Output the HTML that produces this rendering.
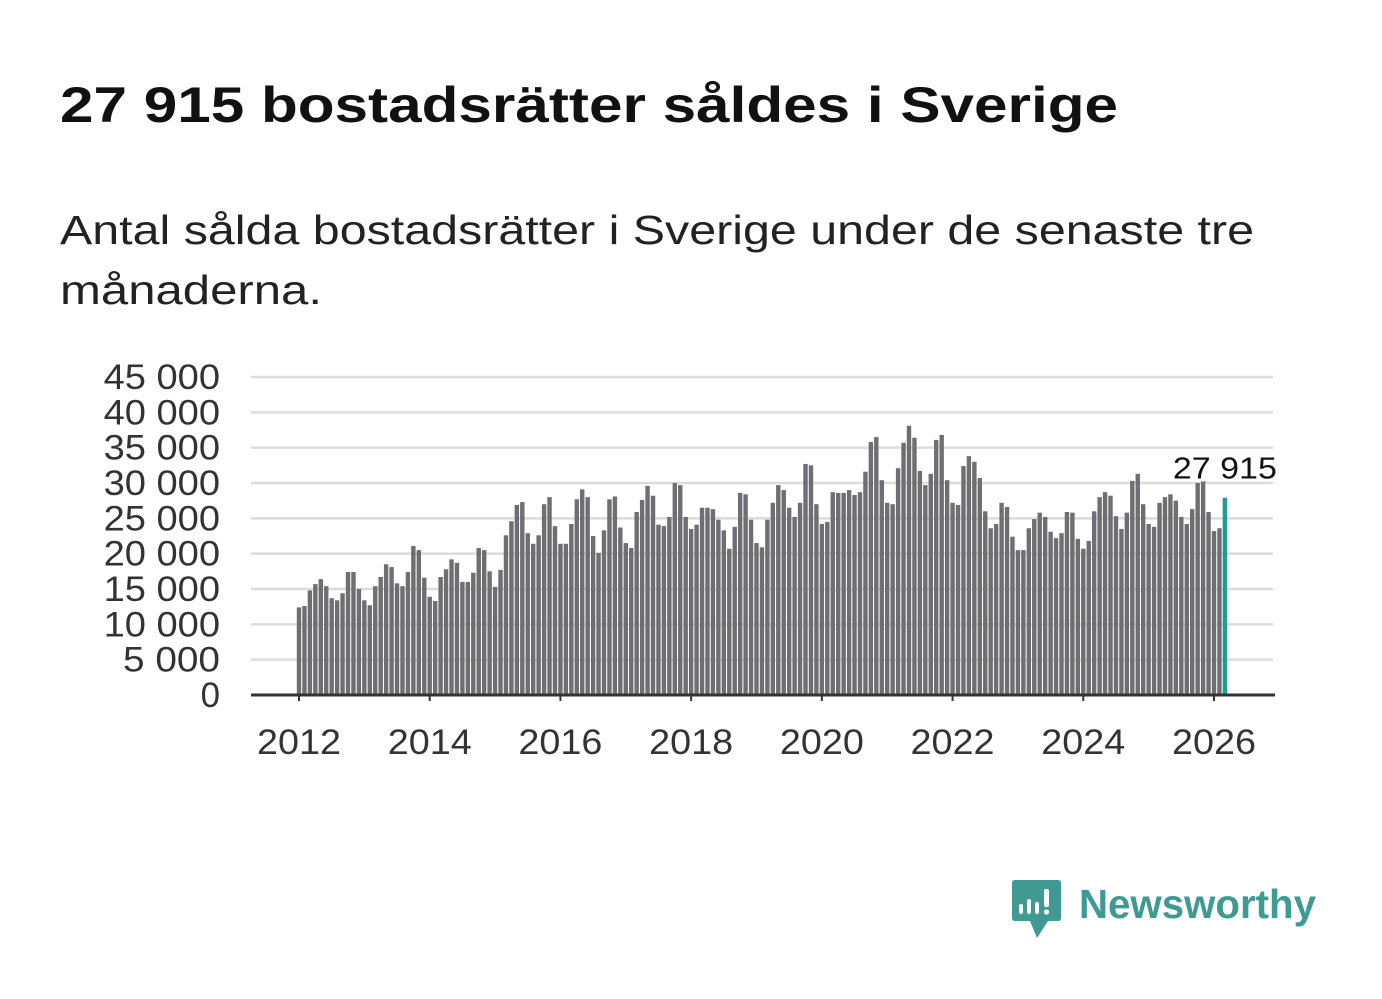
<!DOCTYPE html>
<html><head><meta charset="utf-8"><style>
html,body{margin:0;padding:0;background:#fff;}
svg{display:block;font-family:"Liberation Sans",sans-serif;}
</style></head><body>
<svg id="chart" width="1382" height="999" viewBox="0 0 1382 999">
<text x="60" y="122" font-size="50" font-weight="bold" fill="#111" textLength="1058" lengthAdjust="spacingAndGlyphs">27 915 bostadsrätter såldes i Sverige</text>
<text x="60" y="244" font-size="41" fill="#222" textLength="1194" lengthAdjust="spacingAndGlyphs">Antal sålda bostadsrätter i Sverige under de senaste tre</text>
<text x="60" y="304" font-size="41" fill="#222" textLength="262" lengthAdjust="spacingAndGlyphs">månaderna.</text>
<g id="grid"></g>
<g id="yticks"></g>
<g id="bars"></g>
<g id="xaxis"></g>
<g id="annot"></g>
<g>
<path d="M1015 880 H1058 Q1061 880 1061 883 V918 Q1061 921 1058 921 H1048 L1037 938 L1030 921 H1015 Q1012 921 1012 918 V883 Q1012 880 1015 880 Z" fill="#3f9a93"/>
<rect x="1019" y="904" width="4" height="10" rx="2" fill="#fff"/>
<rect x="1027" y="899" width="4" height="15" rx="2" fill="#fff"/>
<rect x="1035" y="902" width="4" height="12" rx="2" fill="#fff"/>
<rect x="1044" y="889" width="5" height="18" rx="2" fill="#fff"/>
<circle cx="1046.5" cy="912" r="2.6" fill="#fff"/>
<text x="1079" y="918" font-size="41" font-weight="bold" fill="#3f9a93" textLength="237" lengthAdjust="spacingAndGlyphs">Newsworthy</text>
</g>
</svg>
<script>
const yTicks = [0,5000,10000,15000,20000,25000,30000,35000,40000,45000];
const yTickLabels = ["0","5 000","10 000","15 000","20 000","25 000","30 000","35 000","40 000","45 000"];
const xYears = [2012,2014,2016,2018,2020,2022,2024,2026];
const startYear = 2012;
const values = [
12400,12600,14800,15700,16400,15400,13700,13400,14400,17400,17400,15000,
13400,12700,15400,16700,18500,18100,15800,15400,17400,21100,20500,16600,
13900,13300,16700,17800,19200,18700,16000,16000,17300,20800,20500,17500,
15300,17700,22600,24600,26900,27300,22900,21400,22600,27000,28000,23900,
21400,21400,24200,27700,29100,28000,22500,20100,23300,27700,28100,23700,
21500,20800,25900,27600,29600,28200,24100,23900,25200,30000,29700,25200,
23500,24100,26500,26500,26300,24800,23300,20700,23800,28600,28400,24800,
21500,20900,24800,27200,29700,29000,26500,25200,27200,32700,32500,27000,
24200,24500,28700,28600,28600,29000,28300,28700,31600,35800,36500,30400,
27200,27000,32100,35700,38100,36400,31700,29700,31300,36100,36800,30400,
27200,26900,32400,33800,33000,30700,26000,23600,24200,27200,26600,22400,
20500,20500,23600,24900,25800,25200,23100,22200,22900,25900,25800,22100,
20700,21800,26000,28000,28700,28200,25300,23500,25800,30300,31300,27000,
24200,23800,27200,28000,28400,27500,25200,24200,26300,30000,30300,25900,
23200,23600,27915
];
const lastLabel = "27 915";
const NS="http://www.w3.org/2000/svg";
const y0=695, yPer=318/45000;
const yS=v=>y0-v*yPer;
const x0=299, xYear=915/14;
const xM=i=>x0+i*xYear/12;
function mk(t,a,p){const e=document.createElementNS(NS,t);for(const k in a)e.setAttribute(k,a[k]);p.appendChild(e);return e;}
const grid=document.getElementById('grid'),yt=document.getElementById('yticks');
yTicks.forEach((v,i)=>{
  if(v>0){const l=mk('line',{x1:251,x2:1273,y1:yS(v),y2:yS(v),stroke:'#dcdcdc','stroke-width':2.5},grid);
  
  }
  const lab=yTickLabels[i];
  const w=lab.length*19.4;
  const t=mk('text',{x:220,y:yS(v)+12,'text-anchor':'end','font-size':35,fill:'#333',textLength:w,lengthAdjust:'spacingAndGlyphs'},yt);
  t.textContent=lab;
  
  
});
const bars=document.getElementById('bars');
values.forEach((v,i)=>{
  const last=i===values.length-1;
  const r=mk('rect',{x:xM(i)-2.2,y:yS(v),width:4.4,height:y0-yS(v),fill:last?'#1a9e96':'#6f6e73'},bars);
  
  
});
const xa=document.getElementById('xaxis');
const ax=mk('line',{x1:251,x2:1275,y1:y0,y2:y0,stroke:'#333','stroke-width':3},xa);


xYears.forEach(yr=>{
  const x=x0+(yr-startYear)*xYear;
  mk('line',{x1:x,x2:x,y1:y0,y2:y0+6,stroke:'#333','stroke-width':2},xa);
  const t=mk('text',{x:x,y:754,'text-anchor':'middle','font-size':35,fill:'#333',textLength:84,lengthAdjust:'spacingAndGlyphs'},xa);
  t.textContent=String(yr);
  
  
});
const an=document.getElementById('annot');
const li=values.length-1;
const at=mk('text',{x:xM(li),y:yS(values[li])-19,'text-anchor':'middle','font-size':31,fill:'#111',stroke:'#fff','stroke-width':6,'paint-order':'stroke',textLength:104,lengthAdjust:'spacingAndGlyphs'},an);
at.textContent=lastLabel;


</script>
</body></html>
